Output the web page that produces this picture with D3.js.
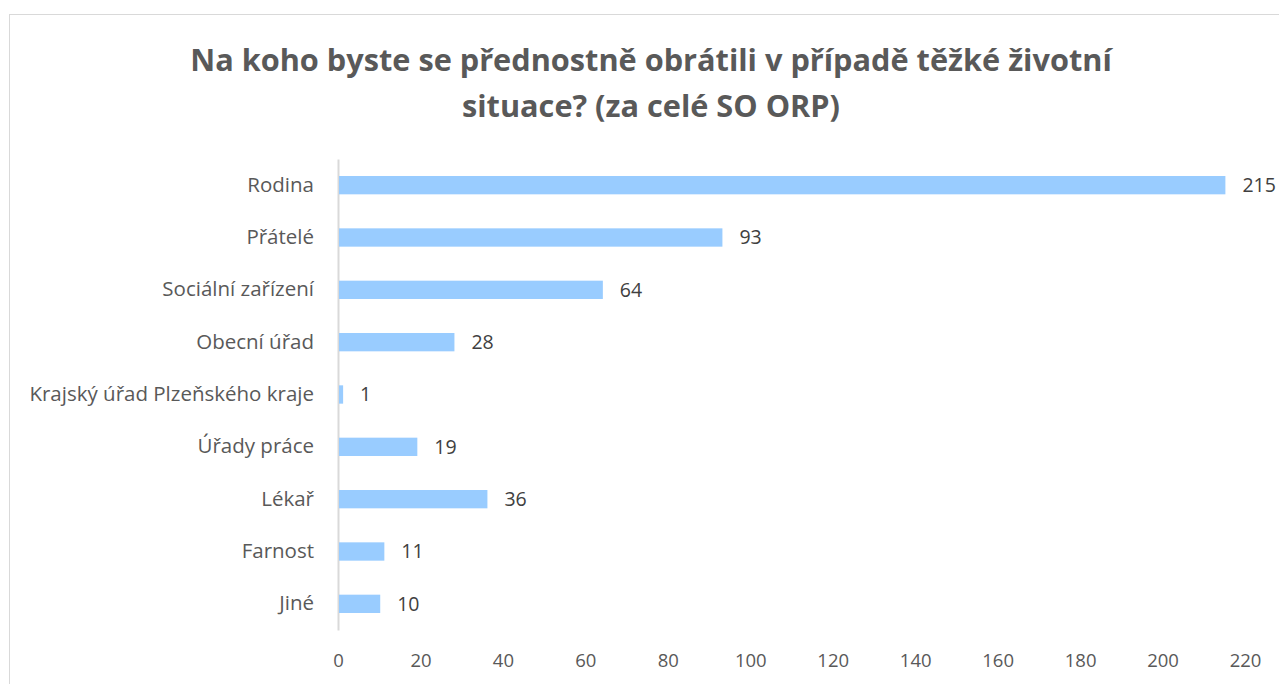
<!DOCTYPE html>
<html>
<head>
<meta charset="utf-8">
<script src="https://cdn.jsdelivr.net/npm/d3@7"></script>
<style>
  body { margin: 0; background: #fff; }
  svg { display: block; font-family: "Open Sans", sans-serif; }
</style>
</head>
<body>
<div id="chart"></div>
<script>
const categories = ["Rodina", "Přátelé", "Sociální zařízení", "Obecní úřad",
  "Krajský úřad Plzeňského kraje", "Úřady práce", "Lékař", "Farnost", "Jiné"];
const values = [215, 93, 64, 28, 1, 19, 36, 11, 10];
const ticks = [0, 20, 40, 60, 80, 100, 120, 140, 160, 180, 200, 220];
const titleLines = ["Na koho byste se přednostně obrátili v případě těžké životní",
  "situace? (za celé SO ORP)"];

const width = 1279, height = 684;
const margin = {left: 338, right: 34, top: 159, bottom: 54};

const svg = d3.select("#chart").append("svg")
    .attr("width", width)
    .attr("height", height);

// chart frame
svg.append("rect")
    .attr("x", 9.5).attr("y", 14.5)
    .attr("width", 1300).attr("height", 700)
    .attr("fill", "#fff")
    .attr("stroke", "#d9d9d9");

svg.selectAll("text.title")
  .data(titleLines)
  .enter().append("text")
    .attr("class", "title")
    .attr("x", 651)
    .attr("y", (d, i) => 71 + i * 46)
    .attr("text-anchor", "middle")
    .attr("font-size", 30.7)
    .attr("font-weight", "bold")
    .attr("fill", "#595959")
    .text(d => d);

let x = d3.scaleLinear()
    .domain([0, 220])
    .range([margin.left, width - margin.right]);

let y = d3.scaleBand()
    .domain(categories)
    .range([margin.top, height - margin.bottom])
    .paddingInner(0.65)
    .paddingOuter(0.325);

svg.append("g")
    .attr("transform", `translate(0,${height - margin.bottom})`)
    .call(d3.axisBottom(x).tickValues(ticks).tickSize(0).tickPadding(24))
    .call(g => g.select(".domain").remove())
    .call(g => g.selectAll("text")
        .attr("font-size", 18.5)
        .attr("font-family", "Open Sans, sans-serif")
        .attr("fill", "#595959"));

svg.append("g")
    .attr("transform", `translate(${margin.left},0)`)
    .call(d3.axisLeft(y).tickSize(0).tickPadding(24))
    .call(g => g.select(".domain").attr("stroke", "#d9d9d9").attr("stroke-width", 2))
    .call(g => g.selectAll("text")
        .attr("font-size", 20.5)
        .attr("font-family", "Open Sans, sans-serif")
        .attr("fill", "#595959"));

svg.selectAll("rect.bar")
  .data(values)
  .enter().append("rect")
    .attr("class", "bar")
    .attr("x", x(0) + 1)
    .attr("y", (d, i) => y(categories[i]))
    .attr("width", d => x(d) - x(0))
    .attr("height", y.bandwidth())
    .attr("fill", "#99ccff");

svg.selectAll("text.val")
  .data(values)
  .enter().append("text")
    .attr("class", "val")
    .attr("x", d => x(d) + 18)
    .attr("y", (d, i) => y(categories[i]) + y.bandwidth() / 2)
    .attr("dy", "0.35em")
    .attr("font-size", 19.5)
    .attr("fill", "#404040")
    .text(d => d);
</script>
</body>
</html>
